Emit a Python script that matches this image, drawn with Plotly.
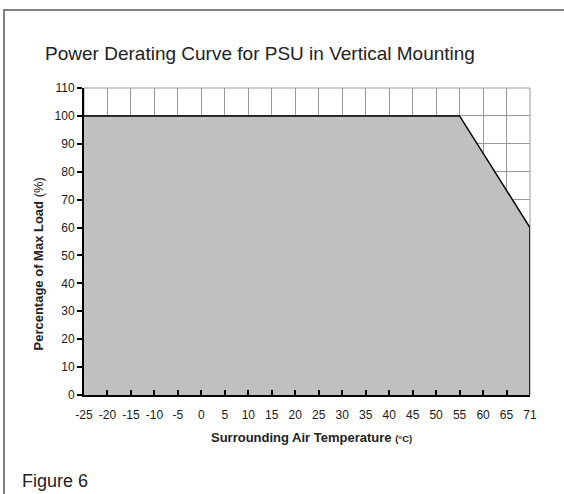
import plotly.graph_objects as go

temp_labels = ["-25", "-20", "-15", "-10", "-5", "0", "5", "10", "15", "20",
               "25", "30", "35", "40", "45", "50", "55", "60", "65", "71"]
curve_temp = ["-25", "55", "71", "71"]
curve_load = [100, 100, 60, 0]
load_ticks = list(range(0, 111, 10))

fig = go.Figure()
fig.add_trace(go.Scatter(
    x=curve_temp, y=curve_load, mode="lines", fill="tozeroy",
    fillcolor="#c0c0c0", line=dict(color="#000000", width=1.5),
    hoverinfo="skip", showlegend=False,
))

font = "Liberation Sans, Arial, sans-serif"
L, R, T, B = 84, 34, 88, 99
W, H = 564, 494
pw, ph = W - L - R, H - T - B


def px(xp):
    return (xp - L) / pw


def py(yp):
    return (H - B - yp) / ph


fig.update_layout(
    width=W, height=H,
    margin=dict(l=L, r=R, t=T, b=B),
    paper_bgcolor="white", plot_bgcolor="white",
    font=dict(family=font, color="#222222", size=11),
    title=dict(text="Power Derating Curve for PSU in Vertical Mounting",
               x=260 / W, xanchor="center", y=1 - 53 / H, yanchor="middle",
               font=dict(size=19, color="#222222", family=font)),
    xaxis=dict(
        type="category", categoryorder="array", categoryarray=temp_labels,
        tickvals=temp_labels, range=[0, len(temp_labels) - 1],
        showgrid=True, gridcolor="#9a9a9a", gridwidth=1,
        showline=True, linecolor="#000000", linewidth=2,
        ticks="inside", ticklen=5, tickcolor="#000000", tickwidth=1.5,
        tickfont=dict(size=12, color="#1a1a1a"), ticklabelstandoff=8,
        zeroline=False,
    ),
    yaxis=dict(
        range=[0, 110], tickvals=load_ticks,
        showgrid=True, gridcolor="#9a9a9a", gridwidth=1,
        showline=True, linecolor="#000000", linewidth=2,
        ticks="outside", ticklen=5, tickcolor="#000000", tickwidth=1.5,
        tickfont=dict(size=12, color="#1a1a1a"),
        zeroline=False,
    ),
    shapes=[
        dict(type="rect", xref="paper", yref="paper", x0=0, x1=1, y0=0, y1=1,
             line=dict(color="#9a9a9a", width=1), fillcolor="rgba(0,0,0,0)",
             layer="below"),
        dict(type="rect", xref="paper", yref="paper",
             x0=px(4), x1=px(W + 10), y0=py(H + 10), y1=py(10),
             line=dict(color="#808080", width=2), fillcolor="rgba(0,0,0,0)",
             layer="above"),
    ],
    annotations=[
        dict(text="<b>Surrounding Air Temperature <span style='font-size:9.5px'>(°C)</span></b>",
             xref="paper", yref="paper", x=px(311), y=py(437),
             xanchor="center", yanchor="middle", showarrow=False,
             font=dict(size=13, color="#222222", family=font)),
        dict(text="<b>Percentage of Max Load </b>(%)",
             xref="paper", yref="paper", x=px(38), y=py(264.5),
             xanchor="center", yanchor="middle", textangle=-90, showarrow=False,
             font=dict(size=13, color="#222222", family=font)),
        dict(text="Figure 6", xref="paper", yref="paper",
             x=px(20), y=py(481), xanchor="left", yanchor="middle",
             showarrow=False, font=dict(size=18, color="#222222", family=font)),
    ],
)

fig.write_html("out.html", config={"displayModeBar": False},
               post_script="document.body.style.margin='0';document.body.style.overflow='hidden';")
